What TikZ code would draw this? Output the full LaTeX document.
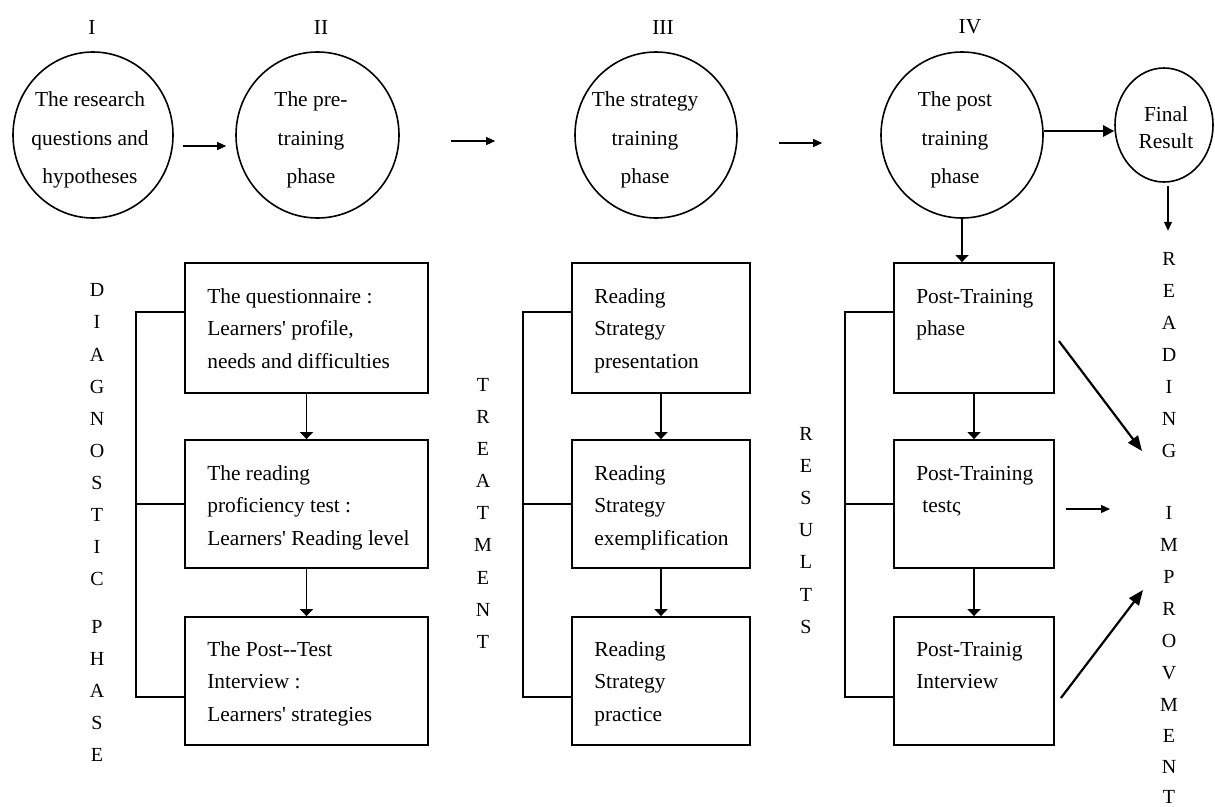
\documentclass[tikz,border=0pt]{standalone}
\usepackage{fontspec}
\setmainfont{Liberation Serif}
\usetikzlibrary{shapes.geometric,arrows.meta,calc}
\begin{document}
\begin{tikzpicture}[x=1pt,y=-1pt,
  circ/.style={draw,ellipse,line width=1.6pt,inner sep=0pt},
  bx/.style={draw,rectangle,line width=1.8pt,inner sep=0pt},
  btxt/.style={font=\fontsize{21.4}{32.5}\selectfont,align=left,inner sep=0pt,anchor=north west},
  ctxt/.style={font=\fontsize{21.4}{38.8}\selectfont,align=center,inner sep=0pt},
  ftxt/.style={font=\fontsize{21.4}{27}\selectfont,align=center,inner sep=0pt},
  vl/.style={font=\fontsize{20}{24}\selectfont,inner sep=0pt},
  rn/.style={font=\fontsize{21.4}{24}\selectfont,inner sep=0pt},
  arr/.style={line width=1.2pt,-{Triangle[width=8pt,length=9pt]}},
  varr/.style={line width=1.2pt,-{Triangle[width=13pt,length=7pt]}},
  bigarr/.style={line width=2.2pt,-{Triangle[width=12pt,length=15pt]}},
  thickarr/.style={line width=2.4pt,-{Triangle[width=11pt,length=11pt]}},
  brk/.style={line width=1.8pt}]

\useasboundingbox (0,0) rectangle (1215,806);

% roman numerals
\node[rn] (n1) at (92,27) {I};
\node[rn] (n2) at (321,27) {II};
\node[rn] (n3) at (663,27) {III};
\node[rn] (n4) at (970,27) {IV};

% circles
\node[circ,minimum width=160pt,minimum height=166pt] (c1) at (93,135) {};
\node[circ,minimum width=163pt,minimum height=166pt] (c2) at (317.5,135) {};
\node[circ,minimum width=162pt,minimum height=166pt] (c3) at (656,135) {};
\node[circ,minimum width=162pt,minimum height=166pt] (c4) at (962,135) {};
\node[circ,minimum width=98pt,minimum height=114pt] (cf) at (1164,125) {};

\node[ctxt] (t1) at (90,140) {The research\\questions and\\hypotheses};
\node[ctxt] (t2) at (311,140) {The pre-\\training\\phase};
\node[ctxt] (t3) at (645,140) {The strategy\\training\\phase};
\node[ctxt] (t4) at (955,140) {The post\\training\\phase};
\node[ftxt] (tf) at (1166,128) {Final\\Result};

% arrows between circles
\draw[arr] ($(c1.east)+(9,11)$) -- ($(c2.west)+(-9,11)$);
\draw[arr] ($(c2.east)+(51,6)$) -- ($(c3.west)+(-79,6)$);
\draw[arr] ($(c3.east)+(41,8)$) -- ($(c4.west)+(-58,8)$);
\draw[thickarr] ($(c4.east)+(0,-4)$) -- ($(cf.west)+(0,6)$);
\draw[arr] ($(cf.south)+(4,3)$) -- ($(cf.south)+(4,48)$);

% boxes column 1
\node[bx,minimum width=243pt,minimum height=130pt] (b11) at (306.5,328) {};
\node[bx,minimum width=243pt,minimum height=128pt] (b12) at (306.5,504) {};
\node[bx,minimum width=243pt,minimum height=128pt] (b13) at (306.5,681) {};
% boxes column 2
\node[bx,minimum width=178pt,minimum height=130pt] (b21) at (661,328) {};
\node[bx,minimum width=178pt,minimum height=128pt] (b22) at (661,504) {};
\node[bx,minimum width=178pt,minimum height=128pt] (b23) at (661,681) {};
% boxes column 4
\node[bx,minimum width=160pt,minimum height=130pt] (b41) at (974,328) {};
\node[bx,minimum width=160pt,minimum height=128pt] (b42) at (974,504) {};
\node[bx,minimum width=160pt,minimum height=128pt] (b43) at (974,681) {};

% box texts
\node[btxt] (x11) at ($(b11.north west)+(23,18.25)$) {\strut The questionnaire :\\Learners\textquotesingle\ profile,\\needs and difficulties};
\node[btxt] (x12) at ($(b12.north west)+(23,18.25)$) {\strut The reading\\proficiency test :\\Learners\textquotesingle\ Reading level};
\node[btxt] (x13) at ($(b13.north west)+(23,17.25)$) {\strut The Post-{}-Test\\Interview :\\Learners\textquotesingle\ strategies};
\node[btxt] (x21) at ($(b21.north west)+(23,18.25)$) {\strut Reading\\Strategy\\presentation};
\node[btxt] (x22) at ($(b22.north west)+(23,18.25)$) {\strut Reading\\Strategy\\exemplification};
\node[btxt] (x23) at ($(b23.north west)+(23,17.25)$) {\strut Reading\\Strategy\\practice};
\node[btxt] (x41) at ($(b41.north west)+(23,18.25)$) {\strut Post-Training\\phase};
\node[btxt] (x42) at ($(b42.north west)+(23,18.25)$) {\strut Post-Training\\\hspace*{6pt}testς};
\node[btxt] (x43) at ($(b43.north west)+(23,17.25)$) {\strut Post-Trainig\\Interview};

% vertical arrows between boxes
\draw[varr] (b11.south) -- (b12.north);
\draw[varr] (b12.south) -- (b13.north);
\draw[varr] (b21.south) -- (b22.north);
\draw[varr] (b22.south) -- (b23.north);
\draw[varr] (b41.south) -- (b42.north);
\draw[varr] (b42.south) -- (b43.north);
\draw[varr] (c4.south) -- (c4.south |- b41.north);

% brackets
\foreach \c in {1,2,4}{
  \draw[brk] ($(b\c1.west)+(0,-16)$) -| ($(b\c3.west)+(-48,16)$) -- ($(b\c3.west)+(0,16)$);
  \draw[brk] (b\c2.west) -- ++(-48,0);
}

% diagonal and side arrows to READING IMPROVMENT
\coordinate (g1) at (1142,451);
\coordinate (g2) at (1110,509);
\coordinate (g3) at (1143,590);
\draw[bigarr] ($(b41.east)+(4,13)$) -- (g1);
\draw[arr] ($(b42.east)+(11,5)$) -- (g2);
\draw[bigarr] ($(b43.east)+(6,17)$) -- (g3);

% vertical words
\foreach \l/\yy [count=\i] in {D/290,I/322,A/355,G/387,N/419,O/451,S/483,T/515,I/547,C/579,P/627,H/659,A/691,S/723,E/755}
  \node[vl] (dg\i) at (97,\yy) {\l};
\foreach \l/\yy [count=\i] in {T/385,R/417,E/449,A/481,T/513,M/545,E/578,N/610,T/642}
  \node[vl] (tr\i) at (483,\yy) {\l};
\foreach \l/\yy [count=\i] in {R/434,E/466,S/498,U/530,L/562,T/595,S/627}
  \node[vl] (rs\i) at (806,\yy) {\l};
\foreach \l/\yy [count=\i] in {R/259,E/291,A/323,D/355,I/387,N/419,G/451,I/513,M/545,P/577,R/609,O/641,V/673,M/705,E/736,N/767,T/797}
  \node[vl] (ri\i) at (1169,\yy) {\l};
\end{tikzpicture}
\end{document}
